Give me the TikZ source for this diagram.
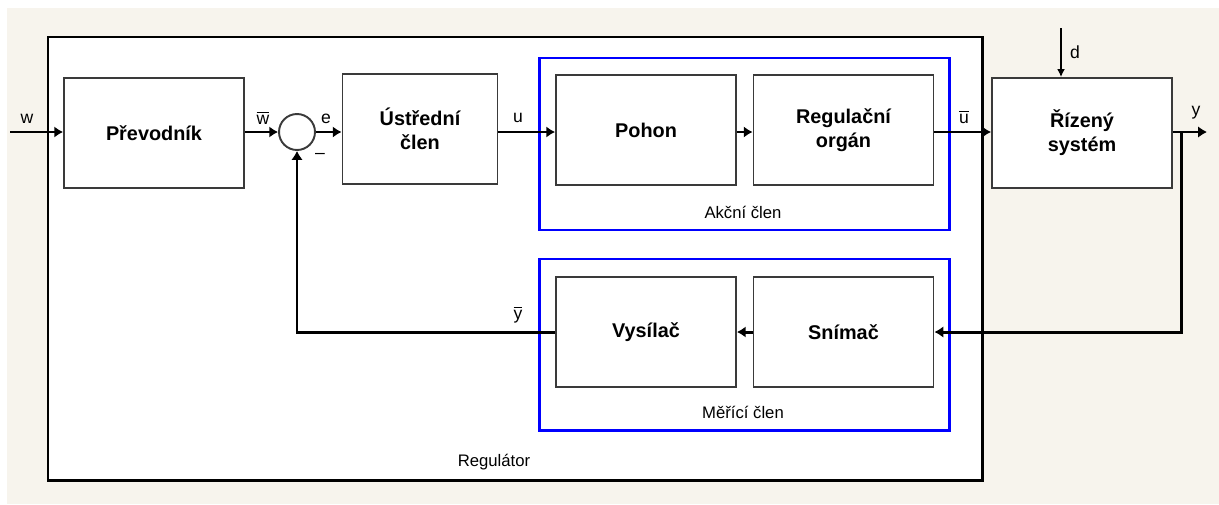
\documentclass[tikz,border=0pt]{standalone}
\usepackage{fontspec}
\setmainfont{Liberation Sans}
\usepackage{tikz}
\usetikzlibrary{arrows.meta,calc}
\usepackage{xcolor}
\definecolor{PaperCream}{HTML}{F7F4ED}
\definecolor{FrameBlue}{HTML}{0000FF}
\definecolor{BoxGray}{HTML}{3A3A3A}

\begin{document}
\begin{tikzpicture}[x=0.02cm,y=-0.02cm,
    block/.style={draw=BoxGray,line width=1.1pt,fill=white,minimum width=3.6cm,
      minimum height=2.2cm,align=center,inner sep=0pt,
      font=\fontsize{11.3}{13.6}\selectfont\bfseries},
    group/.style={draw=FrameBlue,line width=1.7pt},
    signal/.style={line width=1.7pt,-{Latex[length=5pt,width=6.5pt]}},
    lbl/.style={font=\fontsize{9.5}{11}\selectfont,inner sep=0pt}]
    \useasboundingbox (0,0) rectangle (1219,504);
    \fill[white] (0,0) rectangle (1219,504);
    \fill[PaperCream] (7,8) rectangle (1219,504);
    % regulator frame
    \draw[line width=1.7pt,fill=white] (48,37) rectangle (982,480);
    \node[lbl] (regl) at (494,462) {Regulátor};
    % actuator and measuring groups
    \draw[group] (539,58) rectangle (949,230);
    \node[lbl] (akcl) at (743,212) {Akční člen};
    \draw[group] (539,259) rectangle (949,430);
    \node[lbl] (merl) at (743,412) {Měřící člen};
    % blocks
    \node[block] (prev) at (154,133) {Převodník};
    \node[block,minimum width=3.1cm] (ustr) at (420,129) {Ústřední\\člen};
    \node[block] (pohon) at (646,130) {Pohon};
    \node[block] (rorg) at (843.5,130) {Regulační\\orgán};
    \node[block] (riz) at (1082,133) {Řízený\\systém};
    \node[block] (vys) at (646,332) {Vysílač};
    \node[block] (snim) at (843.5,332) {Snímač};
    \node[draw=BoxGray,line width=1.1pt,circle,minimum size=0.72cm,inner sep=0pt,fill=white] (sum) at (297,132) {};
    % signals
    \coordinate (win) at (10,132);
    \coordinate (din) at (1061,28);
    \coordinate (yout) at (1207,132);
    \coordinate (tap) at (1181,132);
    \draw[signal] (win) -- (win -| prev.west);
    \draw[signal] (prev.east |- sum) -- (sum.west);
    \draw[signal] (sum.east) -- (sum -| ustr.west);
    \draw[signal] (ustr.east |- sum) -- (sum -| pohon.west);
    \draw[signal] (pohon.east |- sum) -- (sum -| rorg.west);
    \draw[signal] (rorg.east |- sum) -- (sum -| riz.west);
    \draw[signal] (riz.east |- sum) -- (yout);
    \draw[signal] (tap) |- (snim.east);
    \draw[signal] (snim.west) -- (vys.east);
    \draw[signal] (vys.west) -| (sum.south);
    \draw[line width=0.9pt,-{Latex[length=4.5pt,width=4.5pt]}] (din) -- (din |- riz.north);
    % signal names
    \foreach \x/\y/\name/\txt in {27/119/lw/w, 263/118/lwb/$\overline{\mbox{w}}$,
        326/119/le/e, 518/118/lu/u, 964/117/lub/$\overline{\mbox{u}}$,
        1075/52/ld/d, 1196/113/ly/y, 518/315/lyb/$\overline{\mbox{y}}$,
        320/156/lmin/\textendash}
      \node[lbl,font=\fontsize{10}{12}\selectfont] (\name) at (\x,\y) {\txt};
\end{tikzpicture}
\end{document}
